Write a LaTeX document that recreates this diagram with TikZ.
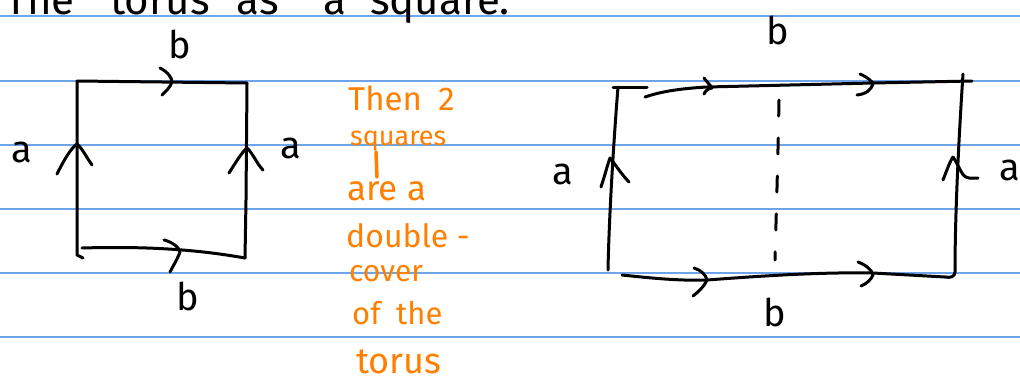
\documentclass[tikz,border=0pt]{standalone}
\usepackage{fontspec}
\setmainfont{Fira Sans}
\definecolor{rule}{RGB}{110,165,232}
\definecolor{pen}{RGB}{0,0,0}
\definecolor{hilite}{RGB}{255,128,0}
\tikzset{
  ruling/.style={draw=rule, line width=1.4},
  ink/.style={draw=pen, line width=3, line cap=round, line join=round},
  dashink/.style={ink, dash pattern=on 16 off 22},
  lbl/.style={font=\fontsize{38}{40}\selectfont, text=pen, inner sep=0},
  title/.style={font=\fontsize{42}{44}\selectfont, text=pen, inner sep=0, anchor=base},
  note/.style={text=hilite, inner sep=0, anchor=base west}
}
\begin{document}
\begin{tikzpicture}[x=1pt,y=-1pt]
  \useasboundingbox (0,0) rectangle (1020,381);
  \clip (0,0) rectangle (1020,381);
  \fill[white] (0,0) rectangle (1020,381);

  % ruled paper
  \foreach \yy in {16,81,145,209,273,337}
    \draw[ruling] (0,\yy) -- (1020,\yy);

  % heading, running off the top of the page
  \node[title] (t1) at (40,14) {The};
  \node[title] (t2) at (160,14) {torus};
  \node[title] (t3) at (258,14) {as};
  \node[title] (t4) at (335,14) {a};
  \node[title] (t5) at (440,14) {square:};

  % ---- the torus as a square ----
  \coordinate (sA) at (77,81);
  \coordinate (sB) at (247,83);
  \coordinate (sC) at (245,258);
  \coordinate (sD) at (83,258);
  \coordinate (sE) at (82,248);
  \draw[ink] (sA) -- (sB);
  \draw[ink] (sA) -- (77,255) -- (sD);
  \draw[ink] (sB) -- (246,200) -- (sC);
  \draw[ink] (sE) .. controls (150,246) and (200,250) .. (sC);
  % direction marks
  \draw[ink] (160,68) .. controls (168,72) and (172,78) .. (172,82) .. controls (170,88) and (165,92) .. (162,95);
  \draw[ink] (164,240) .. controls (172,242) and (179,247) .. (180,252) .. controls (177,260) and (173,266) .. (170,272);
  \draw[ink] (57,174) .. controls (64,160) and (71,148) .. (77,144) .. controls (82,148) and (87,158) .. (92,165);
  \draw[ink] (229,173) .. controls (236,162) and (242,152) .. (247,148) .. controls (252,152) and (257,164) .. (263,170);
  % labels
  \node[lbl] (la) at (22,152) {a};
  \node[lbl] (ra) at (291,148) {a};
  \node[lbl] (tb) at (180,44) {b};
  \node[lbl] (bb) at (188,296) {b};

  % ---- side note ----
  \node[note, font=\fontsize{33}{35}\selectfont] (n1) at (348,110) {Then\hspace{0.5em}2};
  \node[note, font=\fontsize{27}{29}\selectfont] (n2) at (350,145) {squares};
  \draw[draw=hilite, line width=3.5, line cap=round] (376,152) -- (377,177);
  \node[note, font=\fontsize{35}{37}\selectfont] (n3) at (347,200) {are a};
  \node[note, font=\fontsize{32}{34}\selectfont] (n4) at (346,247) {double -};
  \node[note, font=\fontsize{30}{32}\selectfont] (n5) at (349,281) {cover};
  \node[note, font=\fontsize{31}{33}\selectfont] (n6) at (352,324) {of\hspace{0.5em}the};
  \node[note, font=\fontsize{36}{38}\selectfont] (n7) at (356,373) {torus};

  % ---- two squares side by side ----
  \coordinate (rTL) at (618,87);
  \coordinate (rBL) at (608,270);
  \coordinate (rTR) at (963,74);
  \coordinate (rBR) at (955,272);
  \draw[ink] (613,87) -- (647,87);
  \draw[ink] (rTL) .. controls (613,150) and (609,220) .. (rBL);
  \draw[ink] (645,97) .. controls (665,90) and (690,88) .. (707,87) -- (873,83) -- (972,81);
  \draw[ink] (rTR) .. controls (958,150) and (955,220) .. (rBR) .. controls (955,277) and (950,278) .. (945,277);
  \draw[ink] (622,275) .. controls (650,278) and (680,281) .. (707,280) .. controls (760,276) and (820,272) .. (873,273) -- (945,277);
  % fold line between the squares
  \draw[dashink] (779,100) .. controls (778,160) and (776,220) .. (775,260);
  % direction marks
  \draw[ink] (704,78) .. controls (707,82) and (711,86) .. (712,88) .. controls (709,88) and (705,91) .. (704,94);
  \draw[ink] (860,74) .. controls (867,77) and (872,81) .. (873,84) .. controls (871,90) and (866,94) .. (857,95);
  \draw[ink] (694,268) .. controls (701,270) and (706,275) .. (707,280) .. controls (704,287) and (698,292) .. (693,296);
  \draw[ink] (858,262) .. controls (866,265) and (872,270) .. (873,275) .. controls (871,280) and (866,284) .. (861,286);
  \draw[ink] (601,187) .. controls (605,175) and (608,163) .. (610,158) .. controls (615,164) and (622,175) .. (629,182);
  \draw[ink] (943,180) .. controls (947,170) and (950,161) .. (953,157) .. controls (958,164) and (962,176) .. (966,177) .. controls (970,179) and (974,178) .. (978,178);
  % labels
  \node[lbl] (lla) at (563,174) {a};
  \node[lbl] (rra) at (1010,170) {a};
  \node[lbl] (rtb) at (778,30) {b};
  \node[lbl] (rbb) at (775,312) {b};
\end{tikzpicture}
\end{document}
